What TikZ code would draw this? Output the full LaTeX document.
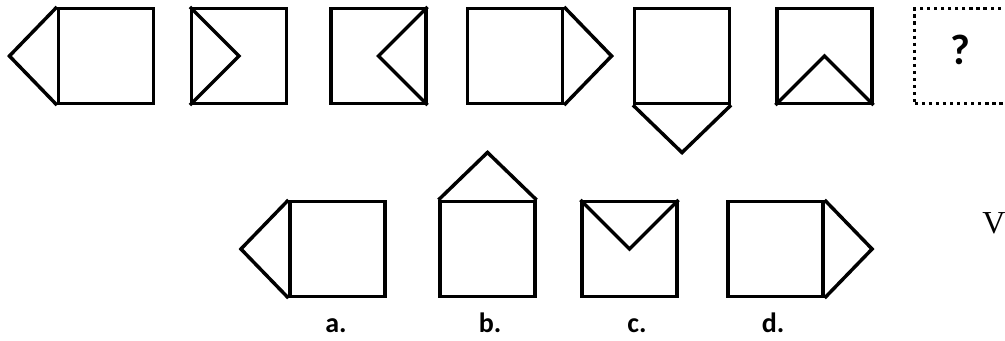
\documentclass[tikz,border=0pt]{standalone}
\usepackage{fontspec}
\setmainfont{Liberation Serif}
\newfontfamily\labelfont{Carlito}
\usepackage{tikz}

\tikzset{
  sq/.style={draw,line width=2.6pt,minimum size=71pt,inner sep=0pt},
  tri/.style={line width=2.6pt,line join=miter},
  qbox/.style={draw,line width=2.6pt,dash pattern=on 2.4pt off 2.9pt,
               minimum size=71pt,inner sep=0pt},
  lab/.style={font=\labelfont\bfseries\fontsize{21}{23}\selectfont,anchor=base,
              inner sep=0pt,text depth=0pt}
}

\begin{document}
\begin{tikzpicture}[x=0.75pt,y=-0.75pt]
            \useasboundingbox (0,0) rectangle (1005,340);
            \clip (0,0) rectangle (1005,340);
            % row of the puzzle
            \node[sq](s1) at (106,56){};
            \node[sq](s2) at (239,56){};
            \node[sq](s3) at (378.5,56){};
            \node[sq](s4) at (515,56){};
            \node[sq](s5) at (682,56){};
            \node[sq](s6) at (824.5,56){};
            \node[qbox](q) at (962,56){};
            \node[font=\labelfont\bfseries\fontsize{32}{34}\selectfont](qm) at (960,50){?};
            \draw[tri] (s1.north west)--([shift={(-47.5,0)}]s1.west)--(s1.south west);
            \draw[tri] (s2.north west)--(s2.center)--(s2.south west);
            \draw[tri] (s3.north east)--(s3.center)--(s3.south east);
            \draw[tri] (s4.north east)--([shift={(47.5,0)}]s4.east)--(s4.south east);
            \draw[tri] (s5.south west)--([shift={(0,47.5)}]s5.south)--(s5.south east);
            \draw[tri] (s6.south west)--(s6.center)--(s6.south east);
            % answers
            \node[sq](a) at (337.5,249){};
            \node[sq](b) at (487.5,249){};
            \node[sq](c) at (629.5,249){};
            \node[sq](d) at (775.5,249){};
            \draw[tri] (a.north west)--([shift={(-47.5,0)}]a.west)--(a.south west);
            \draw[tri] (b.north west)--([shift={(0,-47.5)}]b.north)--(b.north east);
            \draw[tri] (c.north west)--(c.center)--(c.north east);
            \draw[tri] (d.north east)--([shift={(47.5,0)}]d.east)--(d.south east);
            \node[lab](la) at (336,332){a.};
            \node[lab](lb) at (490,332){b.};
            \node[lab](lc) at (637,332){c.};
            \node[lab](ld) at (773,332){d.};
            \node[font=\fontsize{24}{26}\selectfont](v) at (994,223.5){V};
        \end{tikzpicture}
\end{document}
